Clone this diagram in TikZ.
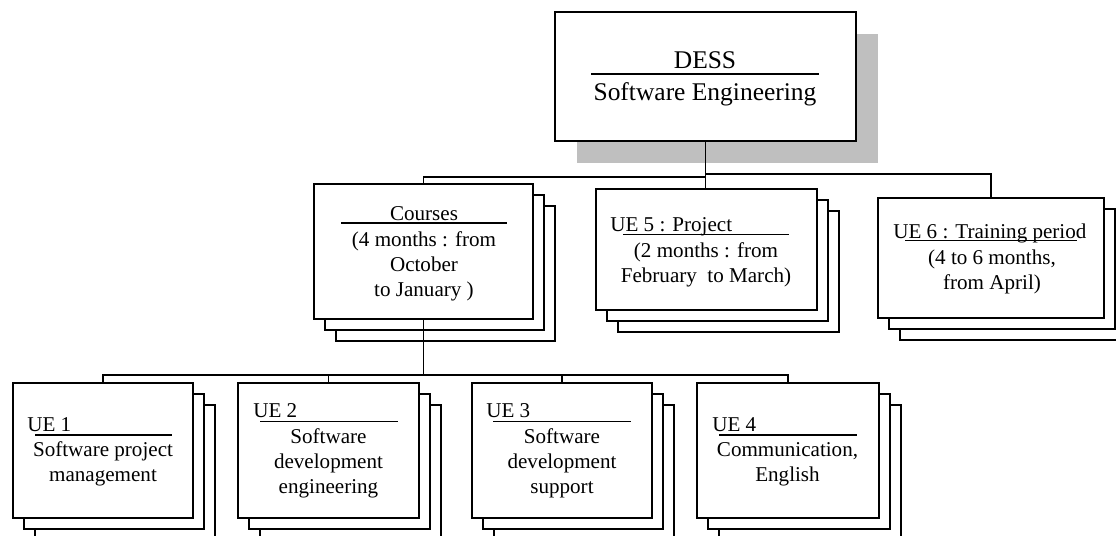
\documentclass[tikz,border=0pt]{standalone}
\usepackage{fontspec}
\setmainfont{Liberation Serif}
\usetikzlibrary{shadows}

\tikzset{
	box/.style = { draw, fill = white, line width = 1.1pt, inner sep = 0pt },
	wh/.style 2 args = { minimum width = #1*0.02cm, minimum height = #2*0.02cm },
	stack/.style = { box,
		general shadow = { draw, fill = white, line width = 1.1pt, shadow xshift = 0.44cm, shadow yshift = -0.44cm },
		general shadow = { draw, fill = white, line width = 1.1pt, shadow xshift = 0.22cm, shadow yshift = -0.22cm } },
	greyshadow/.style = { general shadow = { fill = black!25, shadow xshift = 0.44cm, shadow yshift = -0.44cm } },
	txt/.style = { inner sep = 0pt, font = \fontsize{12}{14.2}\selectfont, align = center },
	bigtxt/.style = { inner sep = 0pt, font = \fontsize{14.5}{17}\selectfont },
	bar/.style = { line width = 0.8pt },
	link/.style = { line width = 0.6pt },
	trunk/.style = { line width = 0.9pt }
}

\begin{document}
\begin{tikzpicture}[x = 0.02cm, y = -0.02cm]
		\clip (0,0) rectangle (1116,535);

		\node [box, greyshadow, wh = {301}{129}] (dess)    at (705.5,76.5)  {};
		\node [stack, wh = {219}{135}]           (courses) at (423.5,251.5) {};
		\node [stack, wh = {221}{121}]           (ue5)     at (706.5,249.5) {};
		\node [stack, wh = {226}{120}]           (ue6)     at (991,258)     {};

		\node [stack, wh = {180}{135}] (ue1) at (103,450.5)   {};
		\node [stack, wh = {181}{135}] (ue2) at (328.5,450.5) {};
		\node [stack, wh = {180}{135}] (ue3) at (562,450.5)   {};
		\node [stack, wh = {182}{135}] (ue4) at (788,450.5)   {};

		% Headings sit on a rule, like the paragraph borders of the original.
		% The body nodes are placed by the baseline of their last line.
		\node [bigtxt, anchor = base] (dessA) at (705,68.3) {DESS};
		\draw [bar] (591,74) -- (819,74);
		\node [bigtxt, anchor = base] (dessB) at (705,100) {Software Engineering};

		\node [txt, anchor = base] (coursesA) at (424,220) {Courses};
		\draw [bar] (341,223) -- (507,223);
		\node [txt, anchor = base] (coursesB) at (424,296.7) {(4 months : from\\October\\to January )};

		\node [txt, anchor = base west] (ue5A) at (610,231.7) {UE 5 : Project};
		\draw [bar] (623,234.3) -- (789,234.3);
		\node [txt, anchor = base] (ue5B) at (706,282) {(2 months : from\\February\ \ to March)};

		\node [txt, anchor = base west] (ue6A) at (893,238.3) {UE 6 : Training period};
		\draw [bar] (905,240.7) -- (1077,240.7);
		\node [txt, anchor = base] (ue6B) at (992,289) {(4 to 6 months,\\from April)};

		\node [txt, anchor = base west] (ue1A) at (27,431) {UE 1};
		\draw [bar] (35,435) -- (172,435);
		\node [txt, anchor = base] (ue1B) at (103,481.7) {Software project\\management};

		\node [txt, anchor = base west] (ue2A) at (253,417.3) {UE 2};
		\draw [bar] (260,421.7) -- (398,421.7);
		\node [txt, anchor = base] (ue2B) at (328.5,493.3) {Software\\development\\engineering};

		\node [txt, anchor = base west] (ue3A) at (486,417.3) {UE 3};
		\draw [bar] (493,421.7) -- (631,421.7);
		\node [txt, anchor = base] (ue3B) at (562,493.3) {Software\\development\\support};

		\node [txt, anchor = base west] (ue4A) at (712,431) {UE 4};
		\draw [bar] (719,435) -- (857,435);
		\node [txt, anchor = base] (ue4B) at (787.5,481.7) {Communication,\\English};

		\coordinate (topL) at (705.5,177);
		\coordinate (topR) at (705.5,174);
		\coordinate (lowM) at (423.5,375);

		\draw [trunk] (dess.south) -- (dess.south |- ue5.north);
		\draw [link] (courses.north) |- (topL);
		\draw [link] (topR) -| (ue6.north);

		\draw [trunk] (courses.south) -- (lowM);
		\draw [link] (ue1.north) |- (lowM) -| (ue4.north);
		\draw [link] (ue2.north) -- (ue2.north |- lowM);
		\draw [link] (ue3.north) -- (ue3.north |- lowM);
	\end{tikzpicture}
\end{document}
